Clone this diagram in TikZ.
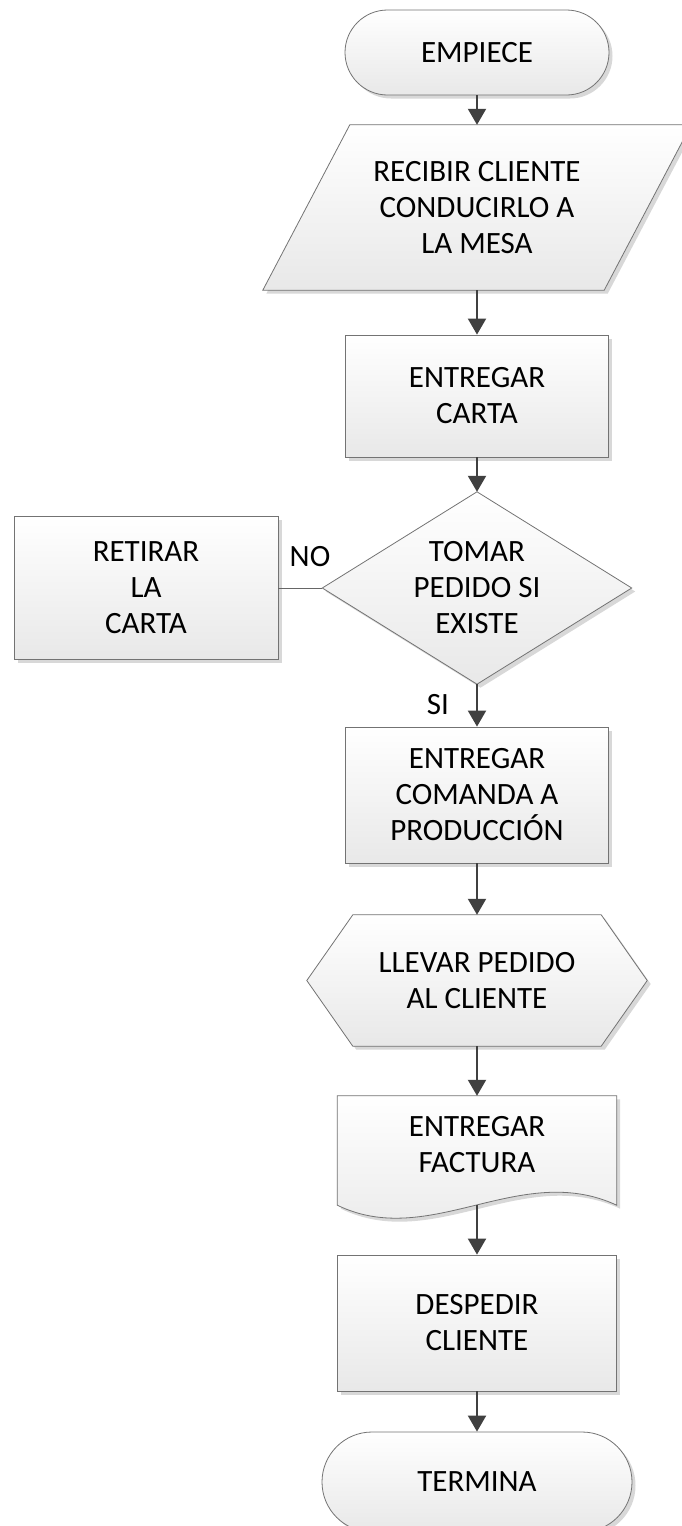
\documentclass[tikz,border=0pt]{standalone}
\usepackage{fontspec}
\setmainfont{Carlito}
\usetikzlibrary{shapes.misc,shadows,arrows.meta,backgrounds,calc}
\begin{document}
\begin{tikzpicture}[x=1pt,y=-1pt,
  every node/.style={font=\fontsize{31}{36}\selectfont, align=center, inner sep=0pt},
  frame/.style={draw=black!55, line width=0.8pt, top color=white, bottom color=black!9,
    drop shadow={shadow xshift=3.5pt, shadow yshift=-3.5pt, fill=black!22, opacity=0.7}},
  boxstyle/.style={frame, rectangle},
  termstyle/.style={frame, rounded rectangle},
  holder/.style={rectangle, draw=none},
  conn/.style={draw=black!75, line width=2pt, -{Triangle[width=18pt,length=16pt]}},
  plainconn/.style={draw=black!60, line width=1pt}
]
\useasboundingbox (0,0) rectangle (681,1526);

% process nodes
\node[termstyle, minimum width=264pt, minimum height=85pt] (start) at (477,52.5) {EMPIECE};
\node[holder, minimum width=341pt, minimum height=165pt] (recv) at (477,207.5) {RECIBIR CLIENTE\\CONDUCIRLO A\\LA MESA};
\node[boxstyle, minimum width=263pt, minimum height=122pt] (carta) at (477,396) {ENTREGAR\\CARTA};
\node[holder, minimum width=309pt, minimum height=192pt] (dec) at (477,588) {TOMAR\\PEDIDO SI\\EXISTE};
\node[boxstyle, minimum width=264pt, minimum height=143pt] (ret) at (146,588) {RETIRAR\\LA\\CARTA};
\node[boxstyle, minimum width=263pt, minimum height=136pt] (com) at (477,795) {ENTREGAR\\COMANDA A\\PRODUCCIÓN};
\node[holder, minimum width=340pt, minimum height=131pt] (llevar) at (477,980.5) {LLEVAR PEDIDO\\AL CLIENTE};
\node[holder, minimum width=279pt, minimum height=97pt] (fact) at (477,1144.5) {ENTREGAR\\FACTURA};
\node[boxstyle, minimum width=279pt, minimum height=136pt] (desp) at (477,1323) {DESPEDIR\\CLIENTE};
\node[termstyle, minimum width=310pt, minimum height=100pt] (term) at (477,1482) {TERMINA};

% labels
\node (no) at (310,557) {NO};
\node (si) at (438,705) {SI};

% custom shapes behind the text
\begin{pgfonlayer}{background}
\path[frame] ([xshift=-43.5pt]recv.south west) -- ([xshift=-43.5pt]recv.south east)
  -- ([xshift=43.5pt]recv.north east) -- ([xshift=43.5pt]recv.north west) -- cycle;
\path[frame] (dec.north) -- (dec.east) -- (dec.south) -- (dec.west) -- cycle;
\path[frame] (llevar.west) -- ([xshift=46pt]llevar.north west) -- ([xshift=-46pt]llevar.north east)
  -- (llevar.east) -- ([xshift=-46pt]llevar.south east) -- ([xshift=46pt]llevar.south west) -- cycle;
\path[frame] (fact.north west) -- (fact.north east) -- ([yshift=-12pt]fact.south east)
  .. controls ($(fact.south east)+(-96.5,-33)$) and ($(fact.south east)+(-186.5,57)$) ..
  ([yshift=-12pt]fact.south west) -- cycle;
\end{pgfonlayer}

% connectors
\draw[conn] (start.south) -- (recv.north);
\draw[conn] (recv.south) -- (carta.north);
\draw[conn] (carta.south) -- (dec.north);
\draw[plainconn] (dec.west) -- (ret.east);
\draw[conn] (dec.south) -- (com.north);
\draw[conn] (com.south) -- (llevar.north);
\draw[conn] (llevar.south) -- (fact.north);
\draw[conn] ([yshift=-12pt]fact.south) -- (desp.north);
\draw[conn] (desp.south) -- (term.north);
\end{tikzpicture}
\end{document}
